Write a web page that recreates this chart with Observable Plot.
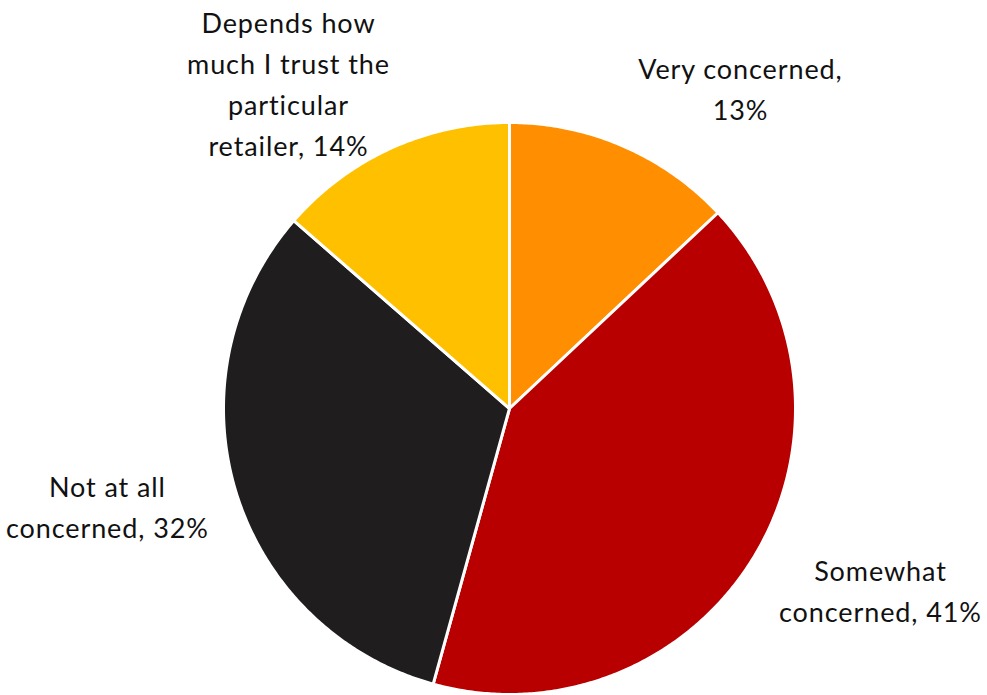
<!DOCTYPE html>
<html>
<head>
<meta charset="utf-8">
<script src="https://cdn.jsdelivr.net/npm/d3@7"></script>
<script src="https://cdn.jsdelivr.net/npm/@observablehq/plot@0.6"></script>
<style>
  html, body { margin: 0; padding: 0; background: #fff; }
  #chart { width: 987px; height: 695px; }
  #chart svg text { letter-spacing: 0.9px; }
</style>
</head>
<body>
<div id="chart"></div>
<script>
// ---- Data ----
const categories = ["Very concerned", "Somewhat concerned", "Not at all concerned", "Depends how much I trust the particular retailer"];
const values = [13.0, 41.3, 32.1, 13.6];
const labels = ["Very concerned,\n13%", "Somewhat\nconcerned, 41%", "Not at all\nconcerned, 32%", "Depends how\nmuch I trust the\nparticular\nretailer, 14%"];
const colors = ["#FF8F00", "#B80000", "#1F1D1E", "#FFC000"];

// ---- Label layout (polar: degrees clockwise from 12 o'clock, radius in pie radii) ----
const labelAngle = [36.0, 116.4, 256.0, 325.6];
const labelRadius = [1.374, 1.448, 1.449, 1.368];

// ---- Build slice polygons in unit space ----
const total = d3.sum(values);
const slicePts = [];
let cum = 0;
categories.forEach((c, i) => {
  const a0 = cum / total * 2 * Math.PI;
  cum += values[i];
  const a1 = cum / total * 2 * Math.PI;
  slicePts.push({cat: c, x: 0, y: 0});
  const n = Math.max(2, Math.ceil((a1 - a0) / (Math.PI / 360)));
  for (let k = 0; k <= n; k++) {
    const a = a0 + (a1 - a0) * k / n;
    slicePts.push({cat: c, x: Math.sin(a), y: Math.cos(a)});
  }
  slicePts.push({cat: c, x: 0, y: 0});
});

const labelData = labels.map((t, i) => {
  const a = labelAngle[i] * Math.PI / 180;
  return {text: t, x: labelRadius[i] * Math.sin(a), y: labelRadius[i] * Math.cos(a)};
});

const W = 987, H = 695;
const cx = 509, cy = 408, R = 286;

const chart = Plot.plot({
  width: W,
  height: H,
  marginLeft: cx - R,
  marginRight: W - (cx + R),
  marginTop: cy - R,
  marginBottom: H - (cy + R),
  x: {domain: [-1, 1], axis: null},
  y: {domain: [-1, 1], axis: null},
  color: {domain: categories, range: colors},
  style: {fontFamily: "Lato, sans-serif", background: "#fff", overflow: "visible"},
  marks: [
    Plot.line(slicePts, {
      x: "x", y: "y", z: "cat", fill: "cat",
      stroke: "#fff", strokeWidth: 3, strokeLinejoin: "round", curve: "linear"
    }),
    Plot.text(labelData, {
      x: "x", y: "y", text: "text", dy: -4,
      fontSize: 27, lineHeight: 1.52, fill: "#111", textAnchor: "middle"
    })
  ]
});
document.getElementById("chart").appendChild(chart);
</script>
</body>
</html>
